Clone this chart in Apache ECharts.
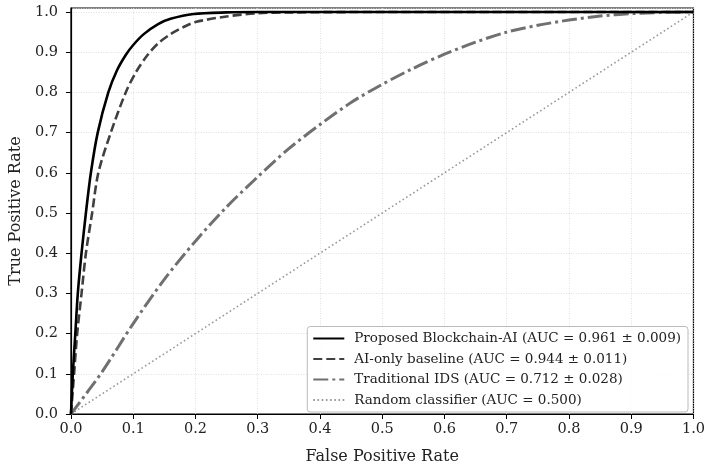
<!DOCTYPE html>
<html>
<head>
<meta charset="utf-8">
<script src="https://cdn.jsdelivr.net/npm/echarts@6/dist/echarts.min.js"></script>
<style>html,body{margin:0;padding:0;background:#fff;}#c{width:708px;height:470px;}</style>
</head>
<body>
<div id="c"></div>
<script>
var xTicks = [0, 0.1, 0.2, 0.3, 0.4, 0.5, 0.6, 0.7, 0.8, 0.9, 1.0];
var seriesNames = [
  'Proposed Blockchain-AI (AUC = 0.961 ± 0.009)',
  'AI-only baseline (AUC = 0.944 ± 0.011)',
  'Traditional IDS (AUC = 0.712 ± 0.028)',
  'Random classifier (AUC = 0.500)'
];
var fprProposed = [0, 0.003, 0.007, 0.011, 0.017, 0.024, 0.032, 0.043, 0.060, 0.074, 0.088, 0.100, 0.117, 0.140, 0.160, 0.197, 0.250, 0.300, 0.400, 0.600, 0.800, 1.0];
var tprProposed = [0, 0.10, 0.20, 0.30, 0.40, 0.50, 0.60, 0.70, 0.80, 0.855, 0.893, 0.918, 0.945, 0.970, 0.983, 0.995, 0.999, 1.0, 1.0, 1.0, 1.0, 1.0];
var fprAI = [0, 0.005, 0.010, 0.017, 0.024, 0.034, 0.044, 0.064, 0.088, 0.105, 0.123, 0.140, 0.160, 0.180, 0.200, 0.250, 0.300, 0.350, 0.500, 0.700, 1.0];
var tprAI = [0, 0.10, 0.20, 0.30, 0.40, 0.50, 0.60, 0.70, 0.80, 0.852, 0.893, 0.922, 0.945, 0.962, 0.975, 0.989, 0.997, 0.999, 1.0, 1.0, 1.0];
var fprIDS = [0, 0.05, 0.1, 0.15, 0.2, 0.25, 0.3, 0.35, 0.4, 0.45, 0.5, 0.55, 0.6, 0.65, 0.7, 0.75, 0.8, 0.85, 0.9, 0.95, 1.0];
var tprIDS = [0, 0.105, 0.225, 0.335, 0.43, 0.515, 0.59, 0.66, 0.72, 0.775, 0.82, 0.86, 0.895, 0.925, 0.95, 0.967, 0.98, 0.99, 0.996, 0.999, 1.0];
var fprRandom = [0, 1];
var tprRandom = [0, 1];

function pairs(xs, ys) { return xs.map(function (x, i) { return [x, ys[i]]; }); }

var font = 'DejaVu Serif';
var chart = echarts.init(document.getElementById('c'), null, {renderer: 'canvas'});
chart.setOption({
  animation: false,
  backgroundColor: '#fff',
  grid: {left: 70, right: 13, top: 8, bottom: 51, show: true, borderColor: '#000', borderWidth: 1.2, backgroundColor: 'transparent'},
  xAxis: {
    type: 'value', min: 0, max: 1, interval: 0.1,
    name: 'False Positive Rate', nameLocation: 'middle', nameGap: 35,
    nameTextStyle: {fontFamily: font, fontSize: 16, color: '#222'},
    axisLine: {show: true, lineStyle: {color: '#000', width: 1.2}},
    axisTick: {show: true, length: 5, lineStyle: {color: '#000', width: 1}},
    axisLabel: {fontFamily: font, fontSize: 14.5, color: '#222', margin: 8, formatter: function (v) { return v.toFixed(1); }},
    splitLine: {show: true, lineStyle: {color: '#d8d8d8', type: [1, 1.5], width: 0.8}}
  },
  yAxis: {
    type: 'value', min: 0, max: 1.01, interval: 0.1,
    name: 'True Positive Rate', nameLocation: 'middle', nameGap: 46,
    nameTextStyle: {fontFamily: font, fontSize: 16, color: '#222'},
    axisLine: {show: true, lineStyle: {color: '#000', width: 1.2}},
    axisTick: {show: true, length: 5, lineStyle: {color: '#000', width: 1}},
    axisLabel: {fontFamily: font, fontSize: 14.5, color: '#222', margin: 13, showMaxLabel: false, formatter: function (v) { return v.toFixed(1); }},
    splitLine: {show: true, lineStyle: {color: '#d8d8d8', type: [1, 1.5], width: 0.8}}
  },
  legend: {
    orient: 'vertical', right: 20, bottom: 58,
    backgroundColor: 'rgba(255,255,255,0.85)', borderColor: '#bbb', borderWidth: 1, borderRadius: 3,
    padding: [5, 7, 5, 5], itemWidth: 31, itemHeight: 14, itemGap: 6.5,
    itemStyle: {opacity: 0},
    textStyle: {fontFamily: font, fontSize: 13.5, lineHeight: 14, color: '#222', padding: [0, 0, 0, 5]},
    data: seriesNames
  },
  series: [
    {name: seriesNames[0], type: 'line', symbol: 'none', data: pairs(fprProposed, tprProposed), smooth: 0.3, z: 5,
     lineStyle: {color: '#000', width: 2.6}, itemStyle: {color: '#000'}},
    {name: seriesNames[1], type: 'line', symbol: 'none', data: pairs(fprAI, tprAI), smooth: 0.3, z: 4,
     lineStyle: {color: '#404040', width: 2.6, type: [9, 4]}, itemStyle: {color: '#404040'}},
    {name: seriesNames[2], type: 'line', symbol: 'none', data: pairs(fprIDS, tprIDS), smooth: 0.3, z: 3,
     lineStyle: {color: '#707070', width: 3, type: [15, 4, 3, 4]}, itemStyle: {color: '#707070'}},
    {name: seriesNames[3], type: 'line', symbol: 'none', data: pairs(fprRandom, tprRandom), z: 2,
     lineStyle: {color: '#999', width: 1.6, type: [1.6, 2.6]}, itemStyle: {color: '#999'}}
  ]
});
</script>
</body>
</html>
